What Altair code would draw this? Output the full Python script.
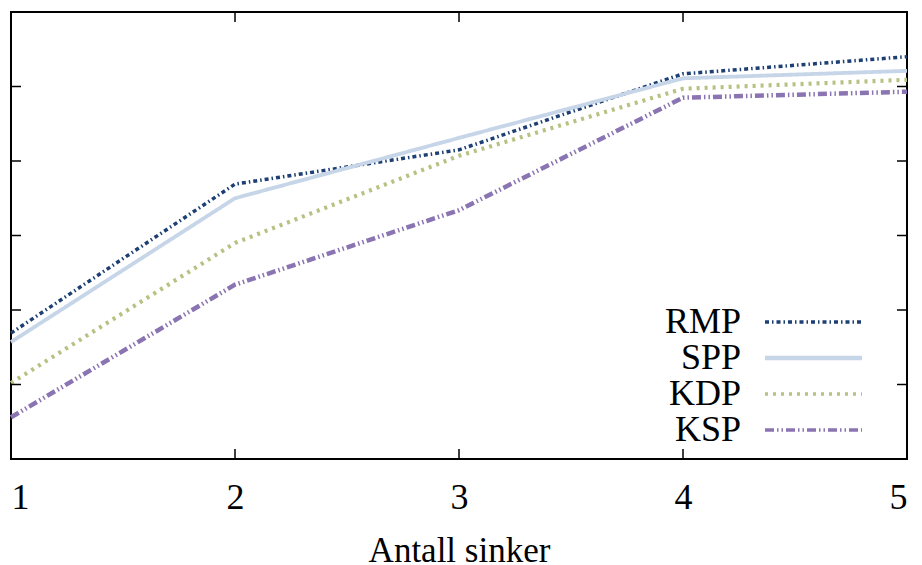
import altair as alt
import pandas as pd

x_vals = [1, 2, 3, 4, 5]
series = ["RMP", "SPP", "KDP", "KSP"]
rmp = [1.69, 3.69, 4.15, 5.17, 5.40]
spp = [1.57, 3.50, 4.31, 5.11, 5.21]
kdp = [1.02, 2.90, 4.07, 4.97, 5.09]
ksp = [0.56, 2.34, 3.34, 4.85, 4.93]
y_ticks = [1, 2, 3, 4, 5]
x_inner_ticks = [2, 3, 4]

colors = ["#1d3f73", "#c6d5e8", "#b6c282", "#8a74b2"]
dashes = [[4, 3, 1.5, 3], [1, 0], [3, 5], [9, 3, 1.5, 3, 1.5, 3]]
widths = [3.5, 4.5, 3.5, 3.5]

FONT = "Liberation Serif, Times New Roman, serif"
W, H = 896, 447

rows = []
for name, vals in zip(series, [rmp, spp, kdp, ksp]):
    for xv, yv in zip(x_vals, vals):
        rows.append({"x": xv, "v": yv, "s": name})
df = pd.DataFrame(rows)

xs = alt.Scale(domain=[1, 5], nice=False, zero=False)
ys = alt.Scale(domain=[0, 6], nice=False, zero=False)

lines = alt.Chart(df).mark_line(strokeCap="butt").encode(
    x=alt.X("x:Q", scale=xs,
            axis=alt.Axis(values=x_vals, format="d", ticks=False, domain=False, grid=False,
                          labelFont=FONT, labelFontSize=36, labelColor="black",
                          labelBaseline="alphabetic", labelPadding=49,
                          title="Antall sinker", titleFont=FONT, titleFontSize=35,
                          titleFontWeight="normal", titleColor="black",
                          titleBaseline="alphabetic", titleY=102)),
    y=alt.Y("v:Q", scale=ys, axis=None),
    color=alt.Color("s:N", scale=alt.Scale(domain=series, range=colors), legend=None),
    strokeDash=alt.StrokeDash("s:N", scale=alt.Scale(domain=series, range=dashes), legend=None),
    strokeWidth=alt.StrokeWidth("s:N", scale=alt.Scale(domain=series, range=widths), legend=None),
    order=alt.Order("x:Q"),
)

ydf = pd.DataFrame({"t": y_ticks})
xdf = pd.DataFrame({"t": x_inner_ticks})

tick_left = alt.Chart(ydf).mark_rule(color="black", strokeWidth=1.5).encode(
    y=alt.Y("t:Q", scale=ys), x=alt.value(0), x2=alt.value(10))
tick_right = alt.Chart(ydf).mark_rule(color="black", strokeWidth=1.5).encode(
    y=alt.Y("t:Q", scale=ys), x=alt.value(W - 10), x2=alt.value(W))
tick_top = alt.Chart(xdf).mark_rule(color="black", strokeWidth=1.5).encode(
    x=alt.X("t:Q", scale=xs), y=alt.value(0), y2=alt.value(10))
tick_bot = alt.Chart(xdf).mark_rule(color="black", strokeWidth=1.5).encode(
    x=alt.X("t:Q", scale=xs), y=alt.value(H - 10), y2=alt.value(H))

one = pd.DataFrame({"a": [0]})
legend_layers = []
for i, name in enumerate(series):
    yy = 310 + 36 * i
    legend_layers.append(
        alt.Chart(one).mark_text(align="right", baseline="middle", font=FONT,
                                 fontSize=36, color="black").encode(
            text=alt.value(name), x=alt.value(730), y=alt.value(yy)))
    legend_layers.append(
        alt.Chart(one).mark_rule(color=colors[i], strokeDash=dashes[i],
                                 strokeWidth=widths[i], strokeCap="butt").encode(
            x=alt.value(754), x2=alt.value(851), y=alt.value(yy)))

chart = alt.layer(lines, tick_left, tick_right, tick_top, tick_bot, *legend_layers).properties(
    width=W, height=H,
    autosize=alt.AutoSizeParams(type="none"),
    padding={"left": 3, "top": 4, "right": 7, "bottom": 106},
    background="white",
).configure_view(stroke="black", strokeWidth=2)

chart.save("out.html", embed_options={"renderer": "svg", "actions": False})
